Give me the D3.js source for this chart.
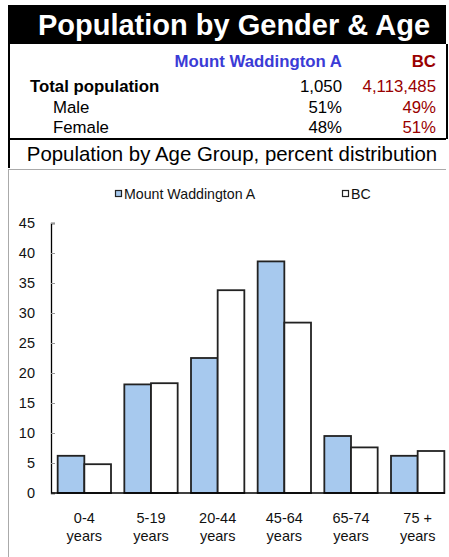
<!DOCTYPE html>
<html><head><meta charset="utf-8">
<script src="https://cdn.jsdelivr.net/npm/d3@7"></script>
<style>body{margin:0;background:#fff}svg{display:block;font-family:"Liberation Sans",Arial,sans-serif}</style>
</head><body><svg id="c" width="449" height="557"></svg>
<script>
const title = "Population by Gender & Age";
const subtitle = "Population by Age Group, percent distribution";
const regions = ["Mount Waddington A", "BC"];
const rowLabels = ["Total population", "Male", "Female"];
const regionAValues = ["1,050", "51%", "48%"];
const bcValues = ["4,113,485", "49%", "51%"];
const categories = ["0-4|years", "5-19|years", "20-44|years", "45-64|years", "65-74|years", "75 +|years"];
const seriesA = [6.2, 18.1, 22.5, 38.6, 9.5, 6.2];
const seriesBC = [4.8, 18.3, 33.8, 28.4, 7.6, 7.0];
const yTicks = [0, 5, 10, 15, 20, 25, 30, 35, 40, 45];

const svg = d3.select("#c");
const blue = "#A7C9EE", red = "#990000", nameBlue = "#3B3BD6";

// header
svg.append("rect").attr("x", 8).attr("y", 5).attr("width", 438).attr("height", 39).attr("fill", "#000");
svg.append("text").attr("x", 234).attr("y", 35).attr("text-anchor", "middle")
  .attr("fill", "#fff").attr("font-weight", "bold").attr("font-size", 29).text(title);

// table borders
svg.append("line").attr("x1", 9).attr("x2", 9).attr("y1", 44).attr("y2", 168).attr("stroke", "#000").attr("stroke-width", 2);
svg.append("line").attr("x1", 447).attr("x2", 447).attr("y1", 44).attr("y2", 139).attr("stroke", "#000").attr("stroke-width", 2);
svg.append("line").attr("x1", 8).attr("x2", 446).attr("y1", 139).attr("y2", 139).attr("stroke", "#000").attr("stroke-width", 2);
svg.append("line").attr("x1", 9).attr("x2", 446).attr("y1", 169.5).attr("y2", 169.5).attr("stroke", "#aaa").attr("stroke-width", 1);
svg.append("line").attr("x1", 8.5).attr("x2", 8.5).attr("y1", 169).attr("y2", 557).attr("stroke", "#aaa").attr("stroke-width", 1);

const fs = 16.8;
svg.append("text").attr("x", 342).attr("y", 67).attr("text-anchor", "end").attr("font-weight", "bold")
  .attr("font-size", fs).attr("fill", nameBlue).text(regions[0]);
svg.append("text").attr("x", 436).attr("y", 67).attr("text-anchor", "end").attr("font-weight", "bold")
  .attr("font-size", fs).attr("fill", red).text(regions[1]);
const rowY = [92, 113, 133];
const rowX = [30, 53, 53];
rowLabels.forEach((l, i) => {
  svg.append("text").attr("x", rowX[i]).attr("y", rowY[i]).attr("font-size", fs)
    .attr("font-weight", i === 0 ? "bold" : "normal").attr("fill", "#000").text(l);
  svg.append("text").attr("x", 342).attr("y", rowY[i]).attr("text-anchor", "end").attr("font-size", fs)
    .attr("fill", "#000").text(regionAValues[i]);
  svg.append("text").attr("x", 436).attr("y", rowY[i]).attr("text-anchor", "end").attr("font-size", fs)
    .attr("fill", red).text(bcValues[i]);
});
svg.append("text").attr("x", 232).attr("y", 161).attr("text-anchor", "middle").attr("font-size", 20.4)
  .attr("fill", "#000").text(subtitle);

// legend
const leg = [{x: 115, name: regions[0], fill: blue}, {x: 342, name: regions[1], fill: "#fff"}];
leg.forEach(d => {
  svg.append("rect").attr("x", d.x + 0.5).attr("y", 190.5).attr("width", 6).attr("height", 6)
    .attr("fill", d.fill).attr("stroke", "#222").attr("stroke-width", 1.2);
  svg.append("text").attr("x", d.x + 9).attr("y", 198.5).attr("font-size", 14.2).attr("fill", "#111").text(d.name);
});

// chart
const x0 = d3.scaleBand().domain(categories).range([51, 451]).paddingInner(0.2).paddingOuter(0.1);
const x1 = d3.scaleBand().domain(["a", "b"]).range([0, x0.bandwidth()]);
const y = d3.scaleLinear().domain([0, 45]).range([493, 223]);

const g = svg.append("g");
categories.forEach((c, i) => {
  [["a", seriesA[i], blue], ["b", seriesBC[i], "#fff"]].forEach(([k, v, f]) => {
    g.append("rect").attr("x", x0(c) + x1(k)).attr("y", y(v)).attr("width", x1.bandwidth())
      .attr("height", y(0) - y(v)).attr("fill", f).attr("stroke", "#222").attr("stroke-width", 1.8);
  });
});

const yAxis = svg.append("g").attr("transform", "translate(51,0)")
  .call(d3.axisRight(y).tickValues(yTicks).tickSize(4).tickFormat(""));
yAxis.select(".domain").attr("stroke", "#000").attr("stroke-width", 1.3);
yAxis.selectAll(".tick line").attr("stroke", "#999");
yTicks.forEach(t => {
  svg.append("text").attr("x", 35).attr("y", y(t) + 5).attr("text-anchor", "end")
    .attr("font-size", 14.5).attr("fill", "#111").text(t);
});

const xAxis = svg.append("g").attr("transform", "translate(0,493)")
  .call(d3.axisBottom(x0).tickSize(0).tickFormat(""));
xAxis.select(".domain").attr("stroke", "#000").attr("stroke-width", 1.3).attr("d", "M51,0H445");
categories.forEach(c => {
  const parts = c.split("|");
  const cx = x0(c) + x0.bandwidth() / 2;
  parts.forEach((p, j) => {
    svg.append("text").attr("x", cx).attr("y", 523 + j * 18).attr("text-anchor", "middle")
      .attr("font-size", 14.5).attr("fill", "#111").text(p);
  });
});
</script></body></html>
